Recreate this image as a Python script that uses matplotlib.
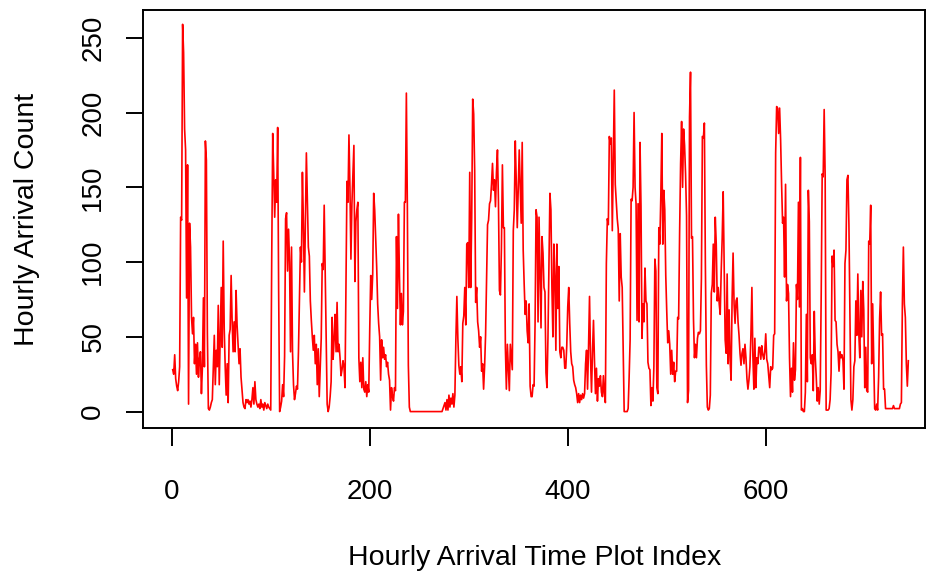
import matplotlib

matplotlib.use("Agg")
import matplotlib.pyplot as plt
import numpy as np

# hourly arrival counts in blocks of 100 hours
counts_001_100 = [
    28, 25, 38, 22, 17, 14, 20, 30, 130, 128,
    259, 240, 189, 175, 76, 165, 5, 126, 110, 63,
    52, 63, 32, 45, 25, 46, 23, 35, 40, 12,
    30, 76, 30, 181, 168, 53, 2, 1, 3, 6,
    8, 30, 51, 18, 41, 30, 71, 18, 51, 83,
    43, 114, 56, 30, 11, 32, 6, 51, 55, 91,
    61, 40, 60, 40, 81, 58, 45, 32, 42, 23,
    14, 6, 3, 2, 8, 6, 8, 5, 7, 3,
    8, 16, 5, 20, 8, 5, 3, 5, 2, 8,
    3, 5, 1, 6, 4, 2, 5, 3, 2, 1,
]
counts_101_200 = [
    103, 186, 160, 130, 155, 140, 190, 80, 0, 3,
    7, 18, 10, 37, 129, 133, 94, 122, 100, 40,
    110, 40, 18, 8, 12, 17, 15, 40, 75, 110,
    100, 160, 126, 80, 126, 173, 140, 110, 104, 74,
    61, 50, 41, 51, 32, 45, 18, 42, 10, 30,
    49, 99, 95, 138, 93, 43, 5, 0, 3, 10,
    20, 63, 35, 48, 65, 40, 73, 40, 45, 36,
    24, 28, 34, 30, 16, 83, 154, 140, 185, 150,
    102, 139, 158, 178, 87, 127, 135, 140, 36, 20,
    33, 16, 36, 15, 13, 20, 10, 18, 13, 55,
]
counts_201_300 = [
    91, 75, 92, 146, 135, 117, 97, 72, 59, 50,
    21, 48, 36, 43, 35, 38, 30, 33, 25, 21,
    1, 16, 10, 7, 16, 14, 117, 69, 132, 91,
    58, 79, 58, 67, 140, 140, 213, 137, 31, 3,
    0, 0, 0, 0, 0, 0, 0, 0, 0, 0,
    0, 0, 0, 0, 0, 0, 0, 0, 0, 0,
    0, 0, 0, 0, 0, 0, 0, 0, 0, 0,
    0, 0, 0, 2, 4, 6, 1, 8, 1, 11,
    3, 9, 5, 12, 3, 11, 48, 77, 49, 31,
    25, 30, 20, 59, 64, 83, 58, 112, 113, 83,
]
counts_301_400 = [
    160, 83, 130, 209, 199, 161, 73, 83, 60, 54,
    43, 50, 27, 32, 15, 30, 51, 90, 125, 128,
    139, 141, 152, 166, 148, 155, 137, 160, 175, 141,
    81, 78, 109, 165, 123, 123, 43, 15, 45, 30,
    14, 45, 36, 28, 121, 135, 181, 154, 123, 148,
    175, 150, 126, 180, 108, 85, 65, 74, 54, 46,
    72, 17, 10, 10, 18, 17, 59, 135, 130, 60,
    130, 93, 56, 117, 106, 83, 80, 26, 16, 49,
    100, 146, 135, 83, 50, 112, 91, 41, 112, 69,
    97, 40, 36, 43, 43, 41, 29, 29, 44, 70,
]
counts_401_500 = [
    83, 59, 40, 32, 30, 21, 18, 16, 12, 6,
    12, 6, 11, 8, 12, 9, 12, 32, 41, 15,
    43, 77, 36, 13, 40, 61, 34, 12, 29, 7,
    22, 17, 24, 13, 10, 24, 12, 6, 99, 129,
    125, 184, 179, 183, 121, 168, 215, 152, 140, 129,
    122, 74, 119, 90, 83, 40, 0, 0, 0, 0,
    2, 23, 48, 142, 141, 150, 200, 150, 139, 61,
    139, 60, 180, 137, 49, 72, 60, 96, 74, 72,
    33, 29, 28, 4, 16, 7, 30, 102, 94, 16,
    12, 123, 112, 144, 186, 112, 148, 135, 91, 67,
]
counts_501_600 = [
    46, 54, 45, 25, 41, 25, 33, 20, 27, 27,
    63, 62, 120, 166, 194, 150, 189, 178, 159, 131,
    6, 14, 197, 227, 116, 117, 62, 36, 45, 36,
    49, 53, 52, 54, 89, 184, 183, 193, 99, 31,
    3, 1, 2, 11, 79, 85, 112, 80, 130, 112,
    74, 83, 72, 65, 94, 116, 147, 99, 48, 39,
    92, 32, 68, 34, 21, 75, 106, 72, 59, 74,
    76, 60, 51, 39, 31, 39, 42, 32, 45, 36,
    22, 15, 21, 30, 51, 83, 37, 15, 49, 16,
    36, 32, 43, 43, 35, 44, 38, 35, 40, 52,
]
counts_601_700 = [
    35, 32, 24, 16, 30, 28, 29, 51, 52, 173,
    204, 203, 186, 203, 182, 152, 126, 130, 90, 152,
    74, 85, 79, 36, 10, 29, 13, 46, 21, 28,
    85, 75, 140, 70, 170, 1, 2, 0, 0, 13,
    65, 20, 148, 127, 36, 32, 38, 14, 67, 36,
    23, 7, 16, 5, 14, 78, 159, 157, 202, 157,
    1, 1, 1, 2, 8, 26, 104, 97, 108, 61,
    60, 45, 40, 27, 40, 36, 38, 34, 15, 99,
    108, 155, 158, 125, 67, 8, 1, 8, 30, 34,
    74, 51, 92, 52, 36, 81, 50, 87, 68, 16,
]
counts_701_744 = [
    43, 14, 13, 114, 112, 138, 32, 72, 36, 2,
    1, 5, 1, 23, 62, 80, 51, 52, 15, 15,
    2, 2, 2, 2, 2, 2, 2, 2, 4, 2,
    2, 2, 2, 2, 2, 5, 6, 72, 110, 72,
    63, 32, 17, 34,
]

x_ticks = [0, 200, 400, 600]
y_ticks = [0, 50, 100, 150, 200, 250]

counts = np.array(
    counts_001_100 + counts_101_200 + counts_201_300 + counts_301_400
    + counts_401_500 + counts_501_600 + counts_601_700 + counts_701_744
)
index = np.arange(1, len(counts) + 1)

plt.rcParams["font.family"] = ["Liberation Sans", "DejaVu Sans"]

fig = plt.figure(figsize=(9.27, 5.74), dpi=100)
ax = fig.add_axes([0.1546, 0.2538, 0.8433, 0.7288])

ax.plot(index, counts, color="red", linewidth=1.2)

ax.set_xlim(-28.7, 760.9)
ax.set_ylim(-11.2, 268.6)
ax.set_xticks(x_ticks)
ax.set_yticks(y_ticks)

for side in ["left", "right", "top", "bottom"]:
    ax.spines[side].set_linewidth(1.4)
    ax.spines[side].set_color("black")

ax.tick_params(axis="both", direction="out", length=12.6, width=1.4,
               labelsize=20, colors="black")
ax.tick_params(axis="x", pad=24)
ax.tick_params(axis="y", pad=14)
for lab in ax.get_yticklabels():
    lab.set_rotation(90)
    lab.set_va("center")

ax.set_xlabel("Hourly Arrival Time Plot Index", fontsize=20.5, labelpad=29)
ax.set_ylabel("Hourly Arrival Count", fontsize=20.5, labelpad=29)

fig.savefig("out.png", dpi=100)
